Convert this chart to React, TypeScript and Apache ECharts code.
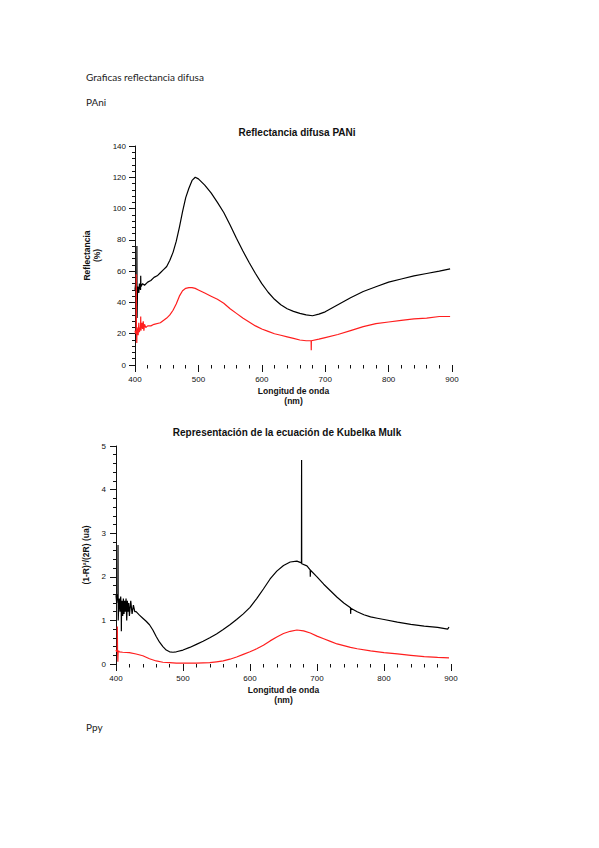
import React, { useEffect, useRef } from "react";
import * as echarts from "echarts";

// ---------- Data ----------
const pageTexts = ["Graficas reflectancia difusa", "PAni", "Ppy"];
const chartTitles = ["Reflectancia difusa PANi", "Representación de la ecuación de Kubelka Mulk"];
const xAxisName = "Longitud de onda\n(nm)";
const yAxisNames = ["Reflectancia\n(%)", "(1-R)²/(2R) (ua)"];

// Chart 1: reflectance (%) vs wavelength (nm)
const reflBlack: [number, number][] = [
  [400, 48], [401, 52], [402.8, 47], [403, 76], [403.3, 30], [404, 49], [405, 50], [406, 46], [407, 52],
  [408, 49], [408.8, 48], [409, 57], [409.3, 50], [410, 50], [412, 52], [415, 51], [420, 53], [425, 54],
  [430, 56], [435, 57], [440, 59], [445, 61], [450, 63], [455, 67], [460, 72], [465, 79], [470, 88],
  [475, 98], [480, 107], [485, 113], [490, 118], [495, 120], [500, 119], [510, 115], [520, 110],
  [530, 104], [540, 97.5], [550, 89.5], [560, 81], [570, 73], [580, 65.5], [590, 58.5], [600, 52],
  [610, 46.5], [620, 42], [630, 38.5], [640, 36], [650, 34.3], [660, 33], [670, 32], [680, 31.5],
  [690, 32.5], [700, 34], [720, 38.5], [740, 43], [760, 47], [780, 50], [800, 53], [820, 55], [840, 57],
  [860, 58.5], [880, 60], [897, 61.5],
];
const reflRed: [number, number][] = [
  [400, 22], [401, 20], [401.8, 22], [402, 58], [402.3, 22], [402.8, 14], [403.2, 24], [404, 24],
  [405, 19], [406, 27], [407, 21], [408, 24], [408.8, 23], [409, 31], [409.3, 22], [410, 22], [411, 27],
  [412, 23], [413, 28], [414, 22], [415, 26], [417, 24], [420, 25], [425, 25], [430, 26], [440, 27],
  [450, 30], [455, 32], [460, 35], [465, 39], [470, 44], [475, 47.5], [480, 49], [485, 49.5], [490, 49.5],
  [495, 49], [500, 48], [510, 46], [520, 44], [530, 42], [540, 39.5], [550, 36], [560, 33], [570, 30],
  [580, 27.5], [590, 25], [600, 23], [610, 21.5], [620, 20], [630, 19], [640, 18], [650, 17], [660, 16],
  [670, 15.5], [677.8, 15.5], [678, 9.5], [678.2, 15.5], [690, 16.5], [700, 17.5], [720, 19.5],
  [740, 22], [760, 24.5], [780, 26.5], [800, 27.5], [820, 28.5], [840, 29.5], [860, 30], [880, 31],
  [897, 31],
];

// Chart 2: Kubelka-Munk function vs wavelength (nm)
const kmBlack: [number, number][] = [
  [400, 1.58], [401, 1.4], [402, 1.6], [402.8, 1.5], [403, 2.73], [403.3, 1.0], [404, 1.3], [405, 1.5],
  [406, 1.2], [407, 1.55], [407.8, 1.3], [408, 0.75], [408.3, 1.3], [409, 1.45], [410, 1.1], [411, 1.5],
  [412, 1.15], [413, 1.45], [414, 1.2], [415, 1.5], [416, 1.0], [417, 1.45], [418, 1.2], [419, 1.4],
  [420, 1.1], [422, 1.45], [424, 1.15], [426, 1.35], [428, 1.2], [430, 1.2], [435, 1.12], [440, 1.05],
  [445, 0.98], [450, 0.9], [455, 0.78], [460, 0.63], [465, 0.5], [470, 0.4], [475, 0.32], [480, 0.28],
  [485, 0.27], [490, 0.28], [500, 0.32], [510, 0.38], [520, 0.45], [530, 0.52], [540, 0.6], [550, 0.69],
  [560, 0.79], [570, 0.9], [580, 1.02], [590, 1.15], [600, 1.3], [610, 1.5], [620, 1.72], [630, 1.95],
  [640, 2.13], [650, 2.26], [660, 2.34], [670, 2.36], [676.8, 2.32], [677, 4.68], [677.2, 2.3],
  [685, 2.25], [689.8, 2.16], [690, 2.0], [690.3, 2.15], [700, 2.0], [710, 1.83], [720, 1.68],
  [730, 1.53], [740, 1.4], [750, 1.29], [750.2, 1.15], [750.5, 1.28], [760, 1.2], [770, 1.13],
  [780, 1.08], [790, 1.05], [800, 1.02], [820, 0.96], [840, 0.91], [860, 0.87], [880, 0.84],
  [895, 0.8], [897, 0.85],
];
const kmRed: [number, number][] = [
  [400, 0.32], [401, 0.28], [401.8, 0.3], [402, 0.86], [402.3, 0.3], [402.8, 0.05], [403.2, 0.28],
  [404, 0.3], [405, 0.28], [410, 0.27], [420, 0.26], [430, 0.23], [440, 0.19], [450, 0.12], [460, 0.07],
  [470, 0.04], [480, 0.03], [490, 0.02], [500, 0.02], [520, 0.02], [540, 0.03], [550, 0.05], [560, 0.07],
  [570, 0.11], [580, 0.16], [590, 0.22], [600, 0.28], [610, 0.35], [620, 0.43], [630, 0.53], [640, 0.62],
  [650, 0.7], [660, 0.75], [670, 0.78], [680, 0.76], [690, 0.71], [700, 0.64], [710, 0.58], [720, 0.52],
  [730, 0.46], [740, 0.42], [750, 0.38], [760, 0.35], [780, 0.3], [800, 0.26], [820, 0.23], [840, 0.2],
  [860, 0.17], [880, 0.15], [897, 0.14],
];

const yRanges = [
  { min: 0, max: 140, interval: 20 },
  { min: 0, max: 5, interval: 1 },
];

const INK = "#111";
const RED = "#ff1e1e";
const AX_FONT = "Liberation Sans";

function xAxisOf(gridIndex: number) {
  return {
    gridIndex,
    type: "value",
    min: 400,
    max: 900,
    interval: 100,
    axisLine: { show: false },
    axisTick: { show: true, length: 7, lineStyle: { color: INK, width: 1 } },
    minorTick: { show: true, splitNumber: 5, length: 3.5, lineStyle: { color: INK, width: 1 } },
    splitLine: { show: false },
    axisLabel: { margin: 10, fontSize: 8, fontFamily: AX_FONT, color: INK },
    name: xAxisName,
    nameLocation: "middle",
    nameGap: 21,
    nameTextStyle: { fontFamily: AX_FONT, fontWeight: "bold", fontSize: 8.5, lineHeight: 10, color: INK },
  };
}

function yAxisOf(gridIndex: number, gap: number, labelMargin: number) {
  const r = yRanges[gridIndex];
  return {
    gridIndex,
    type: "value",
    min: r.min,
    max: r.max,
    interval: r.interval,
    axisLine: { show: true, lineStyle: { color: INK, width: 1 } },
    axisTick: { show: true, length: 6, lineStyle: { color: INK, width: 1 } },
    minorTick: { show: true, splitNumber: 5, length: 3, lineStyle: { color: INK, width: 1 } },
    splitLine: { show: false },
    axisLabel: { margin: labelMargin, fontSize: 8, fontFamily: AX_FONT, color: INK },
    name: yAxisNames[gridIndex],
    nameLocation: "middle",
    nameRotate: 90,
    nameGap: gap,
    nameTextStyle: { fontFamily: AX_FONT, fontWeight: "bold", fontSize: 8.5, lineHeight: 10, color: INK },
  };
}

function lineSeries(data: [number, number][], color: string, idx: number) {
  return {
    type: "line",
    xAxisIndex: idx,
    yAxisIndex: idx,
    data,
    showSymbol: false,
    symbol: "none",
    lineStyle: { color, width: 1.2 },
    silent: true,
  };
}

export default function App() {
  const ref = useRef<HTMLDivElement>(null);
  useEffect(() => {
    if (!ref.current) return;
    const chart = echarts.init(ref.current, undefined, { renderer: "svg" });
    const docStyle = { fontFamily: "Lato", fontSize: 10, fill: "#222" };
    const titleStyle = { fontFamily: AX_FONT, fontWeight: "bold", fontSize: 10, color: INK };
    chart.setOption({
      animation: false,
      backgroundColor: "#fff",
      title: [
        { text: chartTitles[0], left: 297, top: 127, padding: 0, textAlign: "center", textStyle: titleStyle },
        { text: chartTitles[1], left: 287, top: 427, padding: 0, textAlign: "center", textStyle: titleStyle },
      ],
      grid: [
        { left: 135, top: 146, width: 317, height: 219 },
        { left: 116, top: 446, width: 335, height: 218 },
      ],
      xAxis: [xAxisOf(0), xAxisOf(1)],
      yAxis: [yAxisOf(0, 24, 9), yAxisOf(1, 15, 10)],
      series: [
        lineSeries(reflBlack, "#000", 0),
        lineSeries(reflRed, RED, 0),
        lineSeries(kmBlack, "#000", 1),
        lineSeries(kmRed, RED, 1),
      ],
      graphic: [
        { type: "text", left: 86, top: 72, style: { ...docStyle, text: pageTexts[0] } },
        { type: "text", left: 86, top: 97, style: { ...docStyle, text: pageTexts[1] } },
        { type: "text", left: 86, top: 722, style: { ...docStyle, text: pageTexts[2] } },
      ],
    });
    return () => chart.dispose();
  }, []);
  return (
    <div
      ref={ref}
      style={{ position: "absolute", left: 0, top: 0, width: 599, height: 848, background: "#fff" }}
    />
  );
}
